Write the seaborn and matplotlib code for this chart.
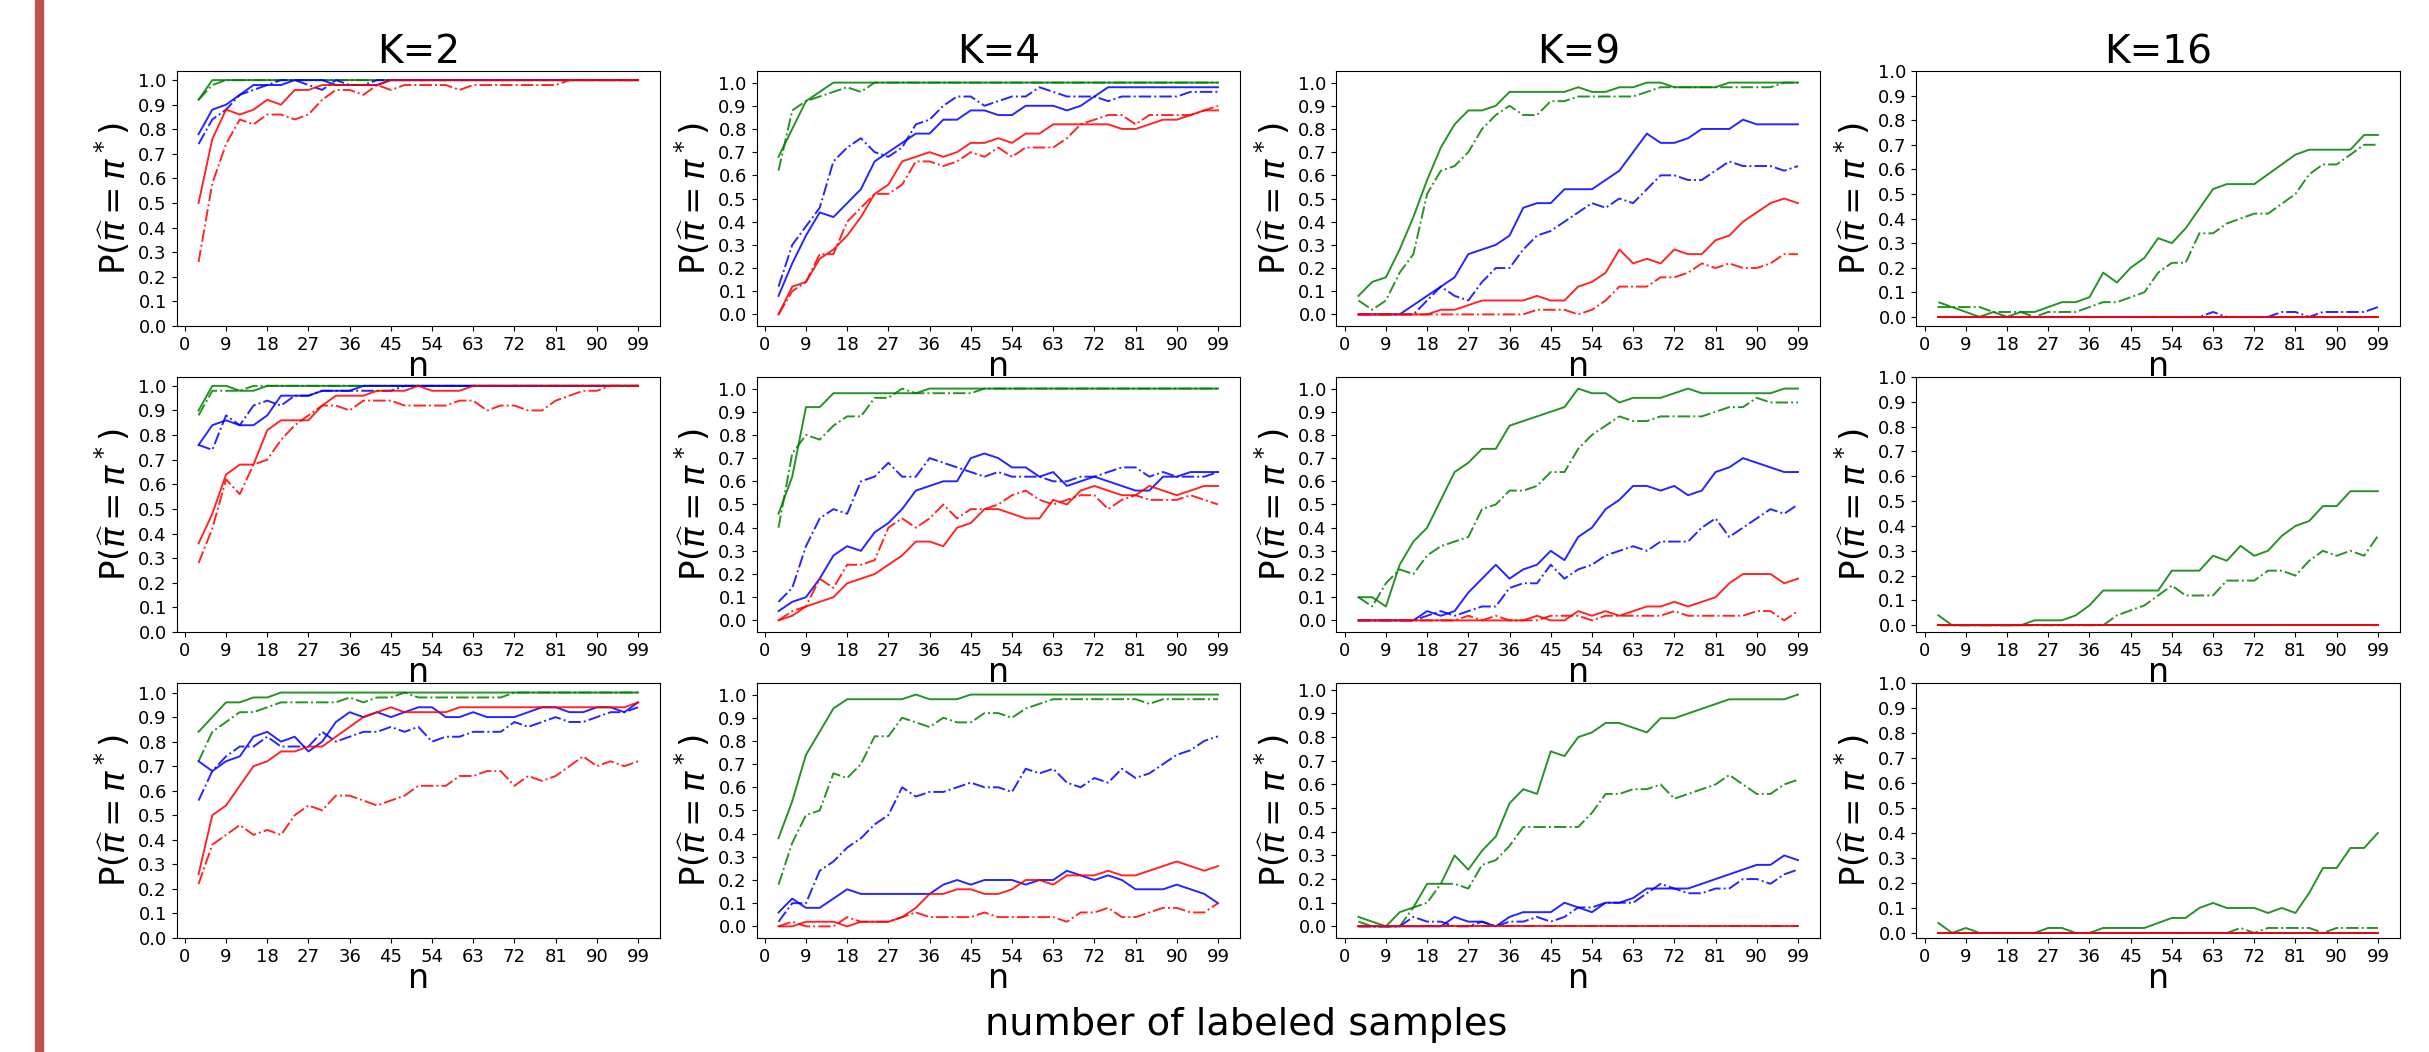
import matplotlib.pyplot as plt
from matplotlib.patches import Rectangle
import seaborn as sns

# sample sizes on the x axis
n_values = [3, 6, 9, 12, 15, 18, 21, 24, 27, 30, 33, 36, 39, 42, 45, 48, 51,
            54, 57, 60, 63, 66, 69, 72, 75, 78, 81, 84, 87, 90, 93, 96, 99]
k_labels = ["K=2", "K=4", "K=9", "K=16"]
x_ticks = [0, 9, 18, 27, 36, 45, 54, 63, 72, 81, 90, 99]
y_ticks = [0.0, 0.1, 0.2, 0.3, 0.4, 0.5, 0.6, 0.7, 0.8, 0.9, 1.0]

# ---- row 1 ----
row1_k2_green = [.92, 1, 1, 1, 1, 1, 1, 1, 1, 1, 1, 1, 1, 1, 1, 1, 1, 1, 1, 1, 1, 1, 1, 1, 1, 1, 1, 1, 1, 1, 1, 1, 1]
row1_k2_green_dd = [.92, .98, 1, 1, 1, 1, 1, 1, 1, 1, 1, 1, 1, 1, 1, 1, 1, 1, 1, 1, 1, 1, 1, 1, 1, 1, 1, 1, 1, 1, 1, 1, 1]
row1_k2_blue = [.78, .88, .90, .94, .98, .98, .98, 1, 1, 1, .98, .98, .98, .98, 1, 1, 1, 1, 1, 1, 1, 1, 1, 1, 1, 1, 1, 1, 1, 1, 1, 1, 1]
row1_k2_blue_dd = [.74, .84, .88, .94, .96, .98, 1, 1, .98, .96, 1, .98, .98, 1, 1, 1, 1, 1, 1, 1, 1, 1, 1, 1, 1, 1, 1, 1, 1, 1, 1, 1, 1]
row1_k2_red = [.50, .76, .88, .86, .88, .92, .90, .96, .96, .98, .98, .98, .98, .98, 1, 1, 1, 1, 1, 1, 1, 1, 1, 1, 1, 1, 1, 1, 1, 1, 1, 1, 1]
row1_k2_red_dd = [.26, .58, .74, .84, .82, .86, .86, .84, .86, .92, .96, .96, .94, .98, .96, .98, .98, .98, .98, .96, .98, .98, .98, .98, .98, .98, .98, 1, 1, 1, 1, 1, 1]

row1_k4_green = [.68, .80, .92, .96, 1, 1, 1, 1, 1, 1, 1, 1, 1, 1, 1, 1, 1, 1, 1, 1, 1, 1, 1, 1, 1, 1, 1, 1, 1, 1, 1, 1, 1]
row1_k4_green_dd = [.62, .88, .92, .94, .96, .98, .96, 1, 1, 1, 1, 1, 1, 1, 1, 1, 1, 1, 1, 1, 1, 1, 1, 1, 1, 1, 1, 1, 1, 1, 1, 1, 1]
row1_k4_blue = [.08, .22, .34, .44, .42, .48, .54, .66, .70, .74, .78, .78, .84, .84, .88, .88, .86, .86, .90, .90, .90, .88, .90, .94, .98, .98, .98, .98, .98, .98, .98, .98, .98]
row1_k4_blue_dd = [.12, .30, .38, .46, .66, .72, .76, .70, .68, .72, .82, .84, .90, .94, .94, .90, .92, .94, .94, .98, .96, .94, .94, .94, .92, .94, .94, .94, .94, .94, .96, .96, .96]
row1_k4_red = [0, .12, .14, .24, .28, .34, .42, .52, .56, .66, .68, .70, .68, .70, .74, .74, .76, .74, .78, .78, .82, .82, .82, .82, .82, .80, .80, .82, .84, .84, .86, .88, .88]
row1_k4_red_dd = [0, .10, .14, .26, .26, .40, .46, .52, .52, .56, .66, .66, .64, .66, .70, .68, .72, .68, .72, .72, .72, .76, .82, .84, .86, .86, .82, .86, .86, .86, .86, .88, .90]

row1_k9_green = [.08, .14, .16, .28, .42, .58, .72, .82, .88, .88, .90, .96, .96, .96, .96, .96, .98, .96, .96, .98, .98, 1, 1, .98, .98, .98, .98, 1, 1, 1, 1, 1, 1]
row1_k9_green_dd = [.06, .02, .06, .18, .26, .52, .62, .64, .70, .80, .86, .90, .86, .86, .92, .92, .94, .94, .94, .94, .94, .96, .98, .98, .98, .98, .98, .98, .98, .98, .98, 1, 1]
row1_k9_blue = [0, 0, 0, 0, .04, .08, .12, .16, .26, .28, .30, .34, .46, .48, .48, .54, .54, .54, .58, .62, .70, .78, .74, .74, .76, .80, .80, .80, .84, .82, .82, .82, .82]
row1_k9_blue_dd = [0, 0, 0, 0, 0, .06, .12, .08, .06, .14, .20, .20, .28, .34, .36, .40, .44, .48, .46, .50, .48, .54, .60, .60, .58, .58, .62, .66, .64, .64, .64, .62, .64]
row1_k9_red = [0, 0, 0, 0, 0, 0, .02, .02, .04, .06, .06, .06, .06, .08, .06, .06, .12, .14, .18, .28, .22, .24, .22, .28, .26, .26, .32, .34, .40, .44, .48, .50, .48]
row1_k9_red_dd = [0, 0, 0, 0, 0, 0, 0, 0, 0, 0, 0, 0, 0, .02, .02, .02, 0, .02, .06, .12, .12, .12, .16, .16, .18, .22, .20, .22, .20, .20, .22, .26, .26]

row1_k16_green = [.04, .04, .02, 0, .02, 0, .02, .02, .04, .06, .06, .08, .18, .14, .20, .24, .32, .30, .36, .44, .52, .54, .54, .54, .58, .62, .66, .68, .68, .68, .68, .74, .74]
row1_k16_green_dd = [.06, .04, .04, .04, .02, .02, .02, 0, .02, .02, .02, .04, .06, .06, .08, .10, .18, .22, .22, .34, .34, .38, .40, .42, .42, .46, .50, .58, .62, .62, .66, .70, .70]
row1_k16_blue = [0, 0, 0, 0, 0, 0, 0, 0, 0, 0, 0, 0, 0, 0, 0, 0, 0, 0, 0, 0, 0, 0, 0, 0, 0, 0, 0, 0, 0, 0, 0, 0, 0]
row1_k16_blue_dd = [0, 0, 0, 0, 0, 0, 0, 0, 0, 0, 0, 0, 0, 0, 0, 0, 0, 0, 0, 0, .02, 0, 0, 0, 0, .02, .02, 0, .02, .02, .02, .02, .04]
row1_k16_red = [0, 0, 0, 0, 0, 0, 0, 0, 0, 0, 0, 0, 0, 0, 0, 0, 0, 0, 0, 0, 0, 0, 0, 0, 0, 0, 0, 0, 0, 0, 0, 0, 0]
row1_k16_red_dd = [0, 0, 0, 0, 0, 0, 0, 0, 0, 0, 0, 0, 0, 0, 0, 0, 0, 0, 0, 0, 0, 0, 0, 0, 0, 0, 0, 0, 0, 0, 0, 0, 0]

# ---- row 2 ----
row2_k2_green = [.90, 1, 1, .98, .98, 1, 1, 1, 1, 1, 1, 1, 1, 1, 1, 1, 1, 1, 1, 1, 1, 1, 1, 1, 1, 1, 1, 1, 1, 1, 1, 1, 1]
row2_k2_green_dd = [.88, .98, .98, .98, 1, 1, 1, 1, 1, 1, 1, 1, 1, 1, 1, 1, 1, 1, 1, 1, 1, 1, 1, 1, 1, 1, 1, 1, 1, 1, 1, 1, 1]
row2_k2_blue = [.76, .84, .86, .84, .84, .88, .96, .96, .96, .98, .98, .98, 1, 1, 1, 1, 1, 1, 1, 1, 1, 1, 1, 1, 1, 1, 1, 1, 1, 1, 1, 1, 1]
row2_k2_blue_dd = [.76, .74, .88, .84, .92, .94, .92, .96, .96, .98, .98, .98, .98, .98, .98, 1, 1, 1, 1, 1, 1, 1, 1, 1, 1, 1, 1, 1, 1, 1, 1, 1, 1]
row2_k2_red = [.36, .48, .64, .68, .68, .82, .86, .86, .86, .92, .96, .96, .96, .98, .98, .98, 1, .98, .98, .98, 1, 1, 1, 1, 1, 1, 1, 1, 1, 1, 1, 1, 1]
row2_k2_red_dd = [.28, .42, .62, .56, .68, .70, .78, .84, .88, .92, .92, .90, .94, .94, .94, .92, .92, .92, .92, .94, .94, .90, .92, .92, .90, .90, .94, .96, .98, .98, 1, 1, 1]

row2_k4_green = [.46, .62, .92, .92, .98, .98, .98, .98, .98, .98, .98, 1, 1, 1, 1, 1, 1, 1, 1, 1, 1, 1, 1, 1, 1, 1, 1, 1, 1, 1, 1, 1, 1]
row2_k4_green_dd = [.40, .72, .80, .78, .84, .88, .88, .96, .96, 1, .98, .98, .98, .98, .98, 1, 1, 1, 1, 1, 1, 1, 1, 1, 1, 1, 1, 1, 1, 1, 1, 1, 1]
row2_k4_blue = [.04, .08, .10, .18, .28, .32, .30, .38, .42, .48, .56, .58, .60, .60, .70, .72, .70, .66, .66, .62, .64, .58, .60, .62, .60, .58, .56, .56, .62, .62, .64, .64, .64]
row2_k4_blue_dd = [.08, .14, .32, .44, .48, .46, .60, .62, .68, .62, .62, .70, .68, .66, .64, .62, .64, .62, .62, .62, .60, .60, .62, .62, .64, .66, .66, .62, .64, .62, .62, .62, .64]
row2_k4_red = [0, .02, .06, .08, .10, .16, .18, .20, .24, .28, .34, .34, .32, .40, .42, .48, .48, .46, .44, .44, .52, .50, .56, .58, .56, .54, .54, .58, .56, .54, .56, .58, .58]
row2_k4_red_dd = [0, .04, .06, .18, .14, .24, .24, .26, .40, .44, .40, .44, .50, .44, .48, .48, .50, .54, .56, .52, .50, .52, .54, .54, .48, .52, .54, .52, .52, .52, .54, .52, .50]

row2_k9_green = [.10, .10, .06, .24, .34, .40, .52, .64, .68, .74, .74, .84, .86, .88, .90, .92, 1, .98, .98, .94, .96, .96, .96, .98, 1, .98, .98, .98, .98, .98, .98, 1, 1]
row2_k9_green_dd = [.10, .06, .16, .22, .20, .28, .32, .34, .36, .48, .50, .56, .56, .58, .64, .64, .74, .80, .84, .88, .86, .86, .88, .88, .88, .88, .90, .92, .92, .96, .94, .94, .94]
row2_k9_blue = [0, 0, 0, 0, 0, .04, .02, .04, .12, .18, .24, .18, .22, .24, .30, .26, .36, .40, .48, .52, .58, .58, .56, .58, .54, .56, .64, .66, .70, .68, .66, .64, .64]
row2_k9_blue_dd = [0, 0, 0, 0, 0, .02, .04, .02, .04, .06, .06, .14, .16, .16, .24, .18, .22, .24, .28, .30, .32, .30, .34, .34, .34, .40, .44, .36, .40, .44, .48, .46, .50]
row2_k9_red = [0, 0, 0, 0, 0, 0, 0, 0, 0, 0, 0, 0, 0, .02, 0, 0, .04, .02, .04, .02, .04, .06, .06, .08, .06, .08, .10, .16, .20, .20, .20, .16, .18]
row2_k9_red_dd = [0, 0, 0, 0, 0, 0, 0, 0, .02, 0, .02, 0, 0, 0, .02, .02, .02, 0, .02, .02, .02, .02, .02, .04, .02, .02, .02, .02, .02, .04, .04, 0, .04]

row2_k16_green = [.04, 0, 0, 0, 0, 0, 0, .02, .02, .02, .04, .08, .14, .14, .14, .14, .14, .22, .22, .22, .28, .26, .32, .28, .30, .36, .40, .42, .48, .48, .54, .54, .54]
row2_k16_green_dd = [0, 0, 0, 0, 0, 0, 0, 0, 0, 0, 0, 0, 0, .04, .06, .08, .12, .16, .12, .12, .12, .18, .18, .18, .22, .22, .20, .26, .30, .28, .30, .28, .36]
row2_k16_blue = [0, 0, 0, 0, 0, 0, 0, 0, 0, 0, 0, 0, 0, 0, 0, 0, 0, 0, 0, 0, 0, 0, 0, 0, 0, 0, 0, 0, 0, 0, 0, 0, 0]
row2_k16_blue_dd = [0, 0, 0, 0, 0, 0, 0, 0, 0, 0, 0, 0, 0, 0, 0, 0, 0, 0, 0, 0, 0, 0, 0, 0, 0, 0, 0, 0, 0, 0, 0, 0, 0]
row2_k16_red = [0, 0, 0, 0, 0, 0, 0, 0, 0, 0, 0, 0, 0, 0, 0, 0, 0, 0, 0, 0, 0, 0, 0, 0, 0, 0, 0, 0, 0, 0, 0, 0, 0]
row2_k16_red_dd = [0, 0, 0, 0, 0, 0, 0, 0, 0, 0, 0, 0, 0, 0, 0, 0, 0, 0, 0, 0, 0, 0, 0, 0, 0, 0, 0, 0, 0, 0, 0, 0, 0]

# ---- row 3 ----
row3_k2_green = [.84, .90, .96, .96, .98, .98, 1, 1, 1, 1, 1, 1, 1, 1, 1, 1, 1, 1, 1, 1, 1, 1, 1, 1, 1, 1, 1, 1, 1, 1, 1, 1, 1]
row3_k2_green_dd = [.72, .84, .88, .92, .92, .94, .96, .96, .96, .96, .96, .98, .96, .98, .98, 1, .98, .98, .98, .98, .98, .98, .98, 1, 1, 1, 1, 1, 1, 1, 1, 1, 1]
row3_k2_blue = [.72, .68, .72, .74, .82, .84, .80, .82, .76, .80, .88, .92, .90, .92, .90, .92, .94, .94, .90, .90, .92, .90, .90, .90, .92, .94, .94, .92, .92, .94, .94, .92, .96]
row3_k2_blue_dd = [.56, .68, .74, .78, .78, .82, .78, .78, .78, .84, .80, .82, .84, .84, .86, .84, .86, .80, .82, .82, .84, .84, .84, .88, .86, .88, .90, .88, .88, .90, .92, .92, .94]
row3_k2_red = [.26, .50, .54, .62, .70, .72, .76, .76, .78, .78, .82, .86, .90, .92, .94, .92, .92, .92, .92, .94, .94, .94, .94, .94, .94, .94, .94, .94, .94, .94, .94, .94, .96]
row3_k2_red_dd = [.22, .38, .42, .46, .42, .44, .42, .50, .54, .52, .58, .58, .56, .54, .56, .58, .62, .62, .62, .66, .66, .68, .68, .62, .66, .64, .66, .70, .74, .70, .72, .70, .72]

row3_k4_green = [.38, .54, .74, .84, .94, .98, .98, .98, .98, .98, 1, .98, .98, .98, 1, 1, 1, 1, 1, 1, 1, 1, 1, 1, 1, 1, 1, 1, 1, 1, 1, 1, 1]
row3_k4_green_dd = [.18, .36, .48, .50, .66, .64, .70, .82, .82, .90, .88, .86, .90, .88, .88, .92, .92, .90, .94, .96, .98, .98, .98, .98, .98, .98, .98, .96, .98, .98, .98, .98, .98]
row3_k4_blue = [.06, .12, .08, .08, .12, .16, .14, .14, .14, .14, .14, .14, .18, .20, .18, .20, .20, .20, .18, .20, .20, .24, .22, .20, .22, .20, .16, .16, .16, .18, .16, .14, .10]
row3_k4_blue_dd = [.02, .10, .10, .24, .28, .34, .38, .44, .48, .60, .56, .58, .58, .60, .62, .60, .60, .58, .68, .66, .68, .62, .60, .64, .62, .68, .64, .66, .70, .74, .76, .80, .82]
row3_k4_red = [0, 0, .02, .02, .02, 0, .02, .02, .02, .04, .08, .14, .14, .16, .16, .14, .14, .16, .20, .20, .18, .22, .22, .22, .24, .22, .22, .24, .26, .28, .26, .24, .26]
row3_k4_red_dd = [0, .02, 0, 0, 0, .04, .02, .02, .02, .04, .06, .04, .04, .04, .04, .06, .04, .04, .04, .04, .04, .02, .06, .06, .08, .04, .04, .06, .08, .08, .06, .06, .10]

row3_k9_green = [.04, .02, 0, .06, .08, .18, .18, .30, .24, .32, .38, .52, .58, .56, .74, .72, .80, .82, .86, .86, .84, .82, .88, .88, .90, .92, .94, .96, .96, .96, .96, .96, .98]
row3_k9_green_dd = [.02, 0, 0, 0, .08, .10, .18, .18, .16, .26, .28, .34, .42, .42, .42, .42, .42, .48, .56, .56, .58, .58, .60, .54, .56, .58, .60, .64, .60, .56, .56, .60, .62]
row3_k9_blue = [0, 0, 0, 0, 0, 0, 0, .04, .02, .02, 0, .04, .06, .06, .06, .10, .08, .06, .10, .10, .12, .16, .16, .16, .16, .18, .20, .22, .24, .26, .26, .30, .28]
row3_k9_blue_dd = [0, 0, 0, 0, .04, .02, .02, 0, 0, .02, 0, .02, .02, .04, .02, .04, .08, .08, .10, .10, .10, .14, .18, .16, .14, .14, .16, .16, .20, .20, .18, .22, .24]
row3_k9_red = [0, 0, 0, 0, 0, 0, 0, 0, 0, 0, 0, 0, 0, 0, 0, 0, 0, 0, 0, 0, 0, 0, 0, 0, 0, 0, 0, 0, 0, 0, 0, 0, 0]
row3_k9_red_dd = [0, 0, 0, 0, 0, 0, 0, 0, 0, 0, 0, 0, 0, 0, 0, 0, 0, 0, 0, 0, 0, 0, 0, 0, 0, 0, 0, 0, 0, 0, 0, 0, 0]

row3_k16_green = [.04, 0, .02, 0, 0, 0, 0, 0, .02, .02, 0, 0, .02, .02, .02, .02, .04, .06, .06, .10, .12, .10, .10, .10, .08, .10, .08, .16, .26, .26, .34, .34, .40]
row3_k16_green_dd = [0, 0, 0, 0, 0, 0, 0, 0, 0, 0, 0, 0, 0, 0, 0, 0, 0, 0, 0, 0, 0, 0, .02, 0, .02, .02, .02, .02, 0, .02, .02, .02, .02]
row3_k16_blue = [0, 0, 0, 0, 0, 0, 0, 0, 0, 0, 0, 0, 0, 0, 0, 0, 0, 0, 0, 0, 0, 0, 0, 0, 0, 0, 0, 0, 0, 0, 0, 0, 0]
row3_k16_blue_dd = [0, 0, 0, 0, 0, 0, 0, 0, 0, 0, 0, 0, 0, 0, 0, 0, 0, 0, 0, 0, 0, 0, 0, 0, 0, 0, 0, 0, 0, 0, 0, 0, 0]
row3_k16_red = [0, 0, 0, 0, 0, 0, 0, 0, 0, 0, 0, 0, 0, 0, 0, 0, 0, 0, 0, 0, 0, 0, 0, 0, 0, 0, 0, 0, 0, 0, 0, 0, 0]
row3_k16_red_dd = [0, 0, 0, 0, 0, 0, 0, 0, 0, 0, 0, 0, 0, 0, 0, 0, 0, 0, 0, 0, 0, 0, 0, 0, 0, 0, 0, 0, 0, 0, 0, 0, 0]

panels = [
    [
        (row1_k2_green, row1_k2_green_dd, row1_k2_blue, row1_k2_blue_dd, row1_k2_red, row1_k2_red_dd),
        (row1_k4_green, row1_k4_green_dd, row1_k4_blue, row1_k4_blue_dd, row1_k4_red, row1_k4_red_dd),
        (row1_k9_green, row1_k9_green_dd, row1_k9_blue, row1_k9_blue_dd, row1_k9_red, row1_k9_red_dd),
        (row1_k16_green, row1_k16_green_dd, row1_k16_blue, row1_k16_blue_dd, row1_k16_red, row1_k16_red_dd),
    ],
    [
        (row2_k2_green, row2_k2_green_dd, row2_k2_blue, row2_k2_blue_dd, row2_k2_red, row2_k2_red_dd),
        (row2_k4_green, row2_k4_green_dd, row2_k4_blue, row2_k4_blue_dd, row2_k4_red, row2_k4_red_dd),
        (row2_k9_green, row2_k9_green_dd, row2_k9_blue, row2_k9_blue_dd, row2_k9_red, row2_k9_red_dd),
        (row2_k16_green, row2_k16_green_dd, row2_k16_blue, row2_k16_blue_dd, row2_k16_red, row2_k16_red_dd),
    ],
    [
        (row3_k2_green, row3_k2_green_dd, row3_k2_blue, row3_k2_blue_dd, row3_k2_red, row3_k2_red_dd),
        (row3_k4_green, row3_k4_green_dd, row3_k4_blue, row3_k4_blue_dd, row3_k4_red, row3_k4_red_dd),
        (row3_k9_green, row3_k9_green_dd, row3_k9_blue, row3_k9_blue_dd, row3_k9_red, row3_k9_red_dd),
        (row3_k16_green, row3_k16_green_dd, row3_k16_blue, row3_k16_blue_dd, row3_k16_red, row3_k16_red_dd),
    ],
]

line_styles = [("green", "-"), ("green", "-."), ("blue", "-"),
               ("blue", "-."), ("red", "-"), ("red", "-.")]

fig, axes = plt.subplots(3, 4, figsize=(24.29, 10.52), dpi=100)
fig.subplots_adjust(left=0.0727, right=0.988, top=0.9325, bottom=0.1084,
                    wspace=0.1996, hspace=0.2)

for r in range(3):
    for c in range(4):
        ax = axes[r, c]
        for vals, (color, ls) in zip(panels[r][c], line_styles):
            sns.lineplot(x=n_values, y=vals, color=color, linestyle=ls,
                         linewidth=1.4, alpha=0.85, errorbar=None, ax=ax)
        ax.set_xticks(x_ticks)
        ax.set_yticks(y_ticks)
        ax.set_yticklabels([f"{t:.1f}" for t in y_ticks])
        ax.tick_params(labelsize=13)
        ax.set_xlabel("n", fontsize=24, labelpad=-2.5)
        ax.set_ylabel(r"P($\widehat{\pi}=\pi^*$)", fontsize=24.5)
        if r == 0:
            ax.set_title(k_labels[c], fontsize=28, pad=-3)

fig.text(0.513, 0.026, "number of labeled samples", ha="center",
         va="center", fontsize=27.5)
# slide accent bar on the left edge
fig.add_artist(Rectangle((0.0145, 0), 0.0033, 1, transform=fig.transFigure,
                         color="#c0504d", zorder=5))

fig.savefig("out.png", dpi=100)
